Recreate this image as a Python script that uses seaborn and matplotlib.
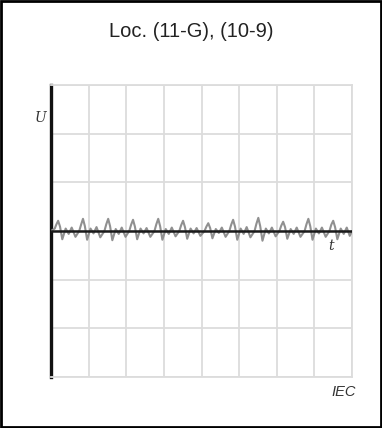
import numpy as np
import pandas as pd
import seaborn as sns
import matplotlib.pyplot as plt
from matplotlib.patches import Rectangle

# waveform (t in grid units, U in grid units)
t = [0.00, 0.10, 0.14, 0.19, 0.24, 0.30, 0.39, 0.47, 0.55, 0.65, 0.75, 0.80,
     0.85, 0.90, 0.96, 1.05, 1.13, 1.21, 1.31, 1.42, 1.47,
     1.52, 1.57, 1.63, 1.72, 1.80, 1.88, 1.98, 2.08, 2.13,
     2.18, 2.23, 2.29, 2.38, 2.46, 2.54, 2.64, 2.75, 2.80,
     2.85, 2.90, 2.96, 3.05, 3.13, 3.21, 3.31, 3.41, 3.46,
     3.51, 3.56, 3.62, 3.71, 3.79, 3.87, 3.97, 4.08, 4.13,
     4.18, 4.23, 4.29, 4.38, 4.46, 4.54, 4.64, 4.74, 4.79,
     4.84, 4.89, 4.95, 5.04, 5.12, 5.20, 5.30, 5.41, 5.46,
     5.51, 5.56, 5.62, 5.71, 5.79, 5.87, 5.97, 6.07, 6.12,
     6.17, 6.22, 6.28, 6.37, 6.45, 6.53, 6.63, 6.74, 6.79,
     6.84, 6.89, 6.95, 7.04, 7.12, 7.20, 7.30, 7.40, 7.45,
     7.50, 7.55, 7.61, 7.70, 7.78, 7.86, 7.94, 8.00]
u = [0.00, 0.05, 0.13, 0.21, 0.09, -0.17, 0.05, -0.06, 0.07, -0.12, 0.00, 0.13,
     0.25, 0.10, -0.18, 0.05, -0.05, 0.08, -0.13, 0.00, 0.14,
     0.25, 0.10, -0.19, 0.04, -0.06, 0.07, -0.12, 0.00, 0.13,
     0.23, 0.09, -0.17, 0.05, -0.05, 0.06, -0.12, 0.00, 0.14,
     0.25, 0.10, -0.18, 0.04, -0.06, 0.07, -0.11, 0.00, 0.12,
     0.21, 0.08, -0.16, 0.05, -0.05, 0.06, -0.10, 0.00, 0.09,
     0.16, 0.06, -0.15, 0.04, -0.04, 0.07, -0.12, 0.00, 0.13,
     0.23, 0.09, -0.18, 0.05, -0.06, 0.08, -0.13, 0.00, 0.15,
     0.27, 0.10, -0.20, 0.05, -0.05, 0.07, -0.11, 0.00, 0.11,
     0.19, 0.08, -0.16, 0.04, -0.06, 0.07, -0.12, 0.00, 0.14,
     0.25, 0.10, -0.18, 0.05, -0.05, 0.07, -0.12, 0.00, 0.13,
     0.21, 0.08, -0.17, 0.05, -0.06, 0.07, -0.10, 0.00]

x_grid = list(range(0, 9))
y_grid = list(range(-3, 4))

sns.set_theme(style="white")
plt.rcParams['font.family'] = ['Liberation Sans', 'DejaVu Sans']

fig = plt.figure(figsize=(3.82, 4.28), dpi=100)
ax = fig.add_axes([0.1335, 0.1192, 0.788, 0.6822])

df = pd.DataFrame({"t": t, "U": u})
sns.lineplot(data=df, x="t", y="U", ax=ax, color="#909090", linewidth=1.5, zorder=3)

ax.set_xlim(0, 8)
ax.set_ylim(-3, 3)
ax.set_xticks(x_grid)
ax.set_yticks(y_grid)
ax.set_xticklabels([])
ax.set_yticklabels([])
ax.tick_params(length=0)
ax.grid(True, color="#dcdcdc", linewidth=1.3)
ax.set_xlabel("")
ax.set_ylabel("")
for s in ["top", "right", "bottom"]:
    ax.spines[s].set_color("#dcdcdc")
    ax.spines[s].set_linewidth(1.3)
ax.spines["left"].set_color("#111111")
ax.spines["left"].set_linewidth(2.4)
ax.axhline(0, color="#1a1a1a", linewidth=1.8, zorder=4)

fig.text(0.5, 0.926, "Loc. (11-G), (10-9)", ha="center", va="center",
         fontsize=14.5, color="#222222")
fig.text(0.105, 0.724, "U", ha="center", va="center", fontsize=10,
         fontstyle="italic", family=["DejaVu Serif"], color="#333333")
fig.text(0.866, 0.425, "t", ha="center", va="center", fontsize=10,
         fontstyle="italic", family=["DejaVu Serif"], color="#333333")
fig.text(0.932, 0.084, "IEC", ha="right", va="center", fontsize=10.5,
         fontstyle="italic", color="#333333")

fig.patches.append(Rectangle((0.003, 0.002), 0.994, 0.996, transform=fig.transFigure,
                             fill=False, edgecolor="black", linewidth=2))

fig.savefig("out.png", dpi=100)
